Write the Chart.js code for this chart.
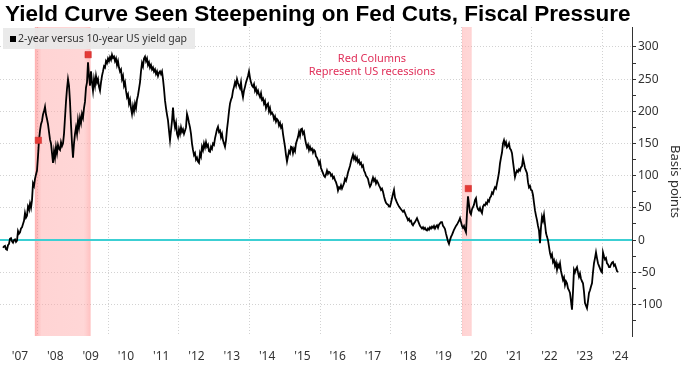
<!DOCTYPE html>
<html><head><meta charset="utf-8">
<script src="https://cdn.jsdelivr.net/npm/chart.js@4.4.1/dist/chart.umd.min.js"></script>
<style>
html,body{margin:0;padding:0;background:#fff;}
#wrap{position:relative;width:692px;height:365px;overflow:hidden;background:#fff;}
#c{position:absolute;left:0;top:0;}
#title{position:absolute;left:5px;top:1px;font:bold 22.5px "Liberation Sans",Arial,sans-serif;color:#000;white-space:nowrap;line-height:26px;}
#legend{position:absolute;left:3px;top:28px;width:192px;height:21px;background:rgba(232,232,232,0.92);font:10.5px "Noto Sans",sans-serif;color:#333;line-height:21px;white-space:nowrap;}
#legend .sw{position:absolute;left:7px;top:8px;width:6px;height:6px;background:#000;}
#legend .tx{position:absolute;left:15px;top:0;}
#note{position:absolute;left:272px;width:200px;top:52px;text-align:center;font:11px "Noto Sans",sans-serif;color:#e0305a;line-height:12.5px;}
</style></head>
<body>
<div id="wrap">
<canvas id="c" width="692" height="365"></canvas>
<div id="title">Yield Curve Seen Steepening on Fed Cuts, Fiscal Pressure</div>
<div id="legend"><span class="sw"></span><span class="tx">2-year versus 10-year US yield gap</span></div>
<div id="note">Red Columns<br>Represent US recessions</div>
</div>
<script>
// 2s10s spread (basis points), sampled roughly every 10 days from early 2007
const sampleStart = 2007.018;
const sampleStep = 1 / 35.3;
const spread = [
-12,-10,-9,-14,-15,-8,-6,2,3,-2,
-4,0,1,-3,-1,14,10,12,18,20,
25,30,42,35,38,52,48,57,50,62,
88,84,95,102,108,130,155,
170,180,185,195,200,207,195,188,180,168,
156,150,135,120,138,128,145,135,148,142,
140,152,146,150,165,190,215,235,250,240,
215,180,150,128,150,165,175,165,186,175,
190,182,196,190,205,215,237,245,276,255,
240,262,
245,232,250,240,255,245,250,238,232,245,
255,262,270,268,278,275,282,278,284,280,
288,283,285,278,282,272,278,268,262,265,
250,255,240,245,232,222,226,212,218,205,
196,208,200,212,205,218,225,235,245,262,
275,270,282,285,278,282,272,276,268,272,
265,268,262,265,258,262,255,260,262,
258,262,250,235,217,205,195,186,170,155,
170,185,206,185,175,182,165,160,172,165,
175,168,172,165,170,175,196,190,182,175,
165,150,140,132,135,125,128,122,120,135,
130,145,140,150,144,152,145,148,138,137,
145,142,150,148,158,165,172,176,168,170,
160,165,155,150,145,155,172,185,200,212,
218,222,232,238,245,240,250,244,240,236,
245,230,222,232,238,245,250,255,262,252,
245,240,238,242,232,236,228,232,226,222,
228,218,220,212,216,205,210,212,200,205,
196,198,195,188,192,184,188,186,178,182,
175,178,165,155,145,132,122,130,138,135,
145,144,135,142,138,150,155,160,168,162,
172,173,165,168,158,150,144,148,140,145,
140,142,136,140,138,130,128,124,118,122,
112,108,104,100,98,
102,108,103,106,105,100,102,96,98,93,
90,85,77,82,80,85,80,84,88,95,
92,98,105,110,115,122,128,133,126,130,
124,128,121,124,118,120,114,116,108,105,
100,98,95,88,83,86,92,97,92,95,
88,92,89,85,82,78,80,75,68,62,
58,56,55,52,52,58,65,72,78,66,
62,58,55,52,50,48,46,44,46,42,
38,35,31,33,29,30,25,23,26,28,
31,34,30,26,22,20,18,20,17,19,
16,15,18,16,20,18,21,19,22,18,
21,23,19,24,26,28,28,22,20,17,
10,4,-2,-6,0,5,8,12,16,19,
22,24,27,30,34,28,22,19,22,16,
12,42,68,55,43,
40,48,51,55,62,65,52,48,46,50,
45,42,52,55,54,58,56,62,60,66,
68,74,72,78,82,80,88,96,105,119,
128,136,150,155,148,152,144,146,150,142,
140,135,122,110,98,104,108,106,110,108,
113,115,127,120,112,108,104,90,82,84,
78,77,70,58,46,38,31,22,15,-5,
20,36,30,39,25,11,5,0,-10,-20,
-26,-22,-34,-31,-40,-35,-46,-38,-42,-36,
-48,-55,-62,-58,-70,-64,-67,-75,-78,-82,
-95,-108,-80,-46,-50,-45,-42,-50,-57,-52,
-60,-64,-67,-80,-98,-102,-106,-95,-82,-78,
-72,-67,-50,-36,-28,-19,-28,-36,-40,-44,
-48,-50,-19,-25,-30,-28,-36,-38,-42,-42,
-38,-35,-34,-40,-38,-43,-48,-50
];
const dates = spread.map((_, i) => sampleStart + i * sampleStep);

// recession shading (decimal years)
const recessionStart = [2007.92, 2020.03];
const recessionEnd = [2009.50, 2020.29];

// red event markers
const markerDates = [2008.02, 2009.43, 2020.20];
const markerValues = [155, 288, 80];

// axes
const labelYears = [2007,2008,2009,2010,2011,2012,2013,2014,2015,2016,2017,2018,2019,2020,2021,2022,2023,2024];
const tickLabels = ["'07","'08","'09","'10","'11","'12","'13","'14","'15","'16","'17","'18","'19","'20","'21","'22","'23","'24"];
const gridYears = [2008,2010,2012,2014,2016,2018,2020,2022,2024];
const xMin = 2006.933, xMax = 2024.837;
const yMin = -149, yMax = 331;
const refLevel = 0;

const points = spread.map((v, i) => ({x: dates[i], y: v}));
const markerPts = markerDates.map((d, i) => ({x: d, y: markerValues[i]}));

const bandPlugin = {
  id: 'bands',
  beforeDatasetsDraw(chart) {
    const {ctx, chartArea: a, scales: {x, y}} = chart;
    ctx.save();
    recessionStart.forEach((s, i) => {
      const x0 = x.getPixelForValue(s), x1 = x.getPixelForValue(recessionEnd[i]);
      const g = ctx.createLinearGradient(x0, 0, x1, 0);
      g.addColorStop(0, 'rgba(255,110,110,0.55)');
      g.addColorStop(0.12, 'rgba(255,165,165,0.48)');
      g.addColorStop(0.88, 'rgba(255,170,170,0.48)');
      g.addColorStop(1, 'rgba(255,130,130,0.5)');
      ctx.fillStyle = g;
      ctx.fillRect(x0, a.top, x1 - x0, a.bottom - a.top);
    });
    const y0 = y.getPixelForValue(refLevel);
    ctx.strokeStyle = '#3ccfd3';
    ctx.lineWidth = 2;
    ctx.beginPath();
    ctx.moveTo(a.left, y0);
    ctx.lineTo(a.right, y0);
    ctx.stroke();
    ctx.restore();
  }
};

new Chart(document.getElementById('c'), {
  type: 'line',
  data: {datasets: [
    {data: points, borderColor: '#000', borderWidth: 1.8, pointRadius: 0, tension: 0, order: 2},
    {type: 'scatter', data: markerPts, pointStyle: 'rect', radius: 4.5, backgroundColor: '#e53935', borderColor: '#c62828', borderWidth: 0.5, order: 1}
  ]},
  options: {
    responsive: false, animation: false, devicePixelRatio: 1,
    layout: {autoPadding: false, padding: {top: 27, left: 0, right: 0, bottom: 0}},
    plugins: {legend: {display: false}, tooltip: {enabled: false}, title: {display: false}},
    scales: {
      x: {
        type: 'linear', min: xMin, max: xMax, position: 'bottom',
        afterFit(s) { s.height = 29; s.paddingLeft = 0; s.paddingRight = 0; },
        afterBuildTicks(s) {
          const t = [];
          labelYears.forEach(yr => { t.push({value: yr}); t.push({value: yr + 0.5}); });
          s.ticks = t;
        },
        grid: {
          color(c) { const v = c.tick && c.tick.value; return gridYears.includes(v) ? '#d2d2d2' : 'rgba(0,0,0,0)'; },
          drawTicks: false, lineWidth: 1
        },
        border: {display: false, dash: [1, 2]},
        ticks: {
          autoSkip: false, maxRotation: 0, padding: 13, color: '#333',
          font: {family: 'Noto Sans', size: 12},
          callback(v) { const i = labelYears.indexOf(v - 0.5); return i >= 0 ? tickLabels[i] : ''; }
        }
      },
      y: {
        position: 'right', min: yMin, max: yMax,
        afterFit(s) { s.width = 60; s.paddingTop = 0; s.paddingBottom = 0; },
        afterBuildTicks(s) { s.ticks = s.ticks.filter(t => t.value % 25 === 0 && t.value >= s.min && t.value <= s.max); },
        ticks: {stepSize: 25, padding: 2, color: '#333', font: {family: 'Noto Sans', size: 12},
          callback(v) { return v % 50 === 0 ? String(v) : ''; }},
        grid: {
          color(c) { return (c.tick && c.tick.value % 50 === 0) ? '#d2d2d2' : 'rgba(0,0,0,0)'; },
          tickColor: '#333', tickLength: 4, tickBorderDash: [], lineWidth: 1
        },
        border: {display: true, color: '#333', width: 1, dash: [1, 2]},
        title: {display: true, text: 'Basis points', color: '#333', font: {family: 'Noto Sans', size: 13}, padding: {top: 9, bottom: 0}}
      }
    }
  },
  plugins: [bandPlugin]
});
</script>
</body></html>
